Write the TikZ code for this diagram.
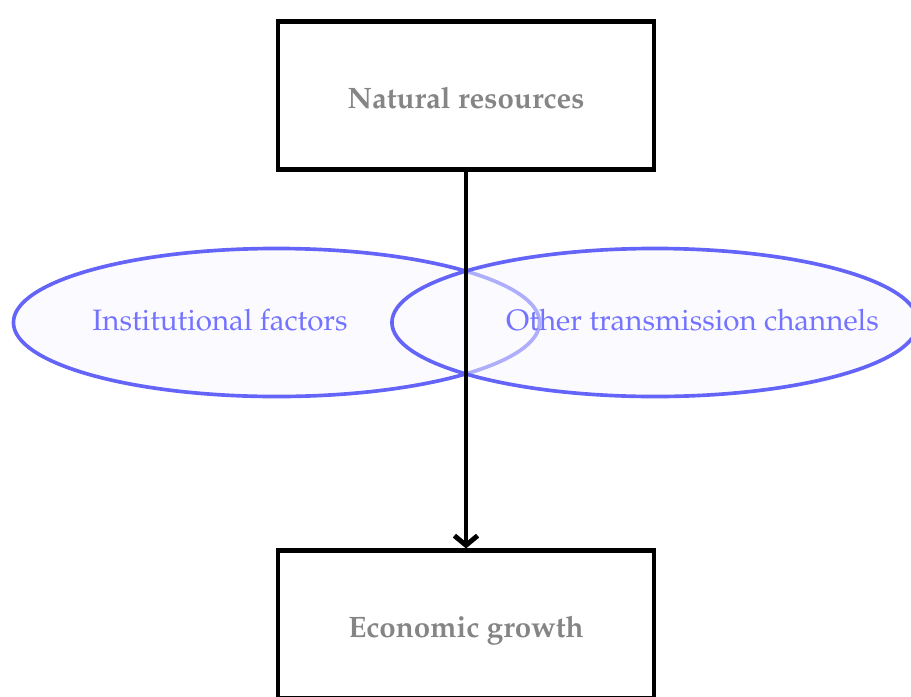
\documentclass[tikz,border=0pt]{standalone}
\usepackage[T1]{fontenc}
\usepackage{mathpazo}
\usetikzlibrary{shapes.geometric,arrows.meta}
\definecolor{chanline}{HTML}{6464F8}
\definecolor{chanfill}{HTML}{F8F8FF}
\definecolor{chantext}{HTML}{7373FF}
\definecolor{boxtext}{HTML}{858585}
\begin{document}
\begin{tikzpicture}[x=0.025cm,y=-0.025cm,
  factorbox/.style={draw=black, line width=2.9pt, minimum width=9.375cm,
    minimum height=3.7cm, inner sep=0pt, text=boxtext,
    text height=17.8pt, text depth=0pt,
    font=\fontsize{21}{25}\selectfont\bfseries},
  channel/.style={ellipse, draw=chanline, line width=2.6pt, fill=chanfill,
    fill opacity=0.5, draw opacity=1, minimum width=13.15cm,
    minimum height=3.7cm, inner sep=0pt},
  chanlabel/.style={text=chantext, font=\fontsize{21}{25}\selectfont,
    inner sep=0pt, anchor=base},
  flow/.style={draw=black, line width=3.5pt,
    -{Straight Barb[length=0.24cm,width=0.58cm]}}]
  \useasboundingbox (0,0) rectangle (911,696);
  % two overlapping channel ellipses
  \node[channel] (inst) at (276.5,322.5) {};
  \node[channel] (other) at (655,322.5) {};
  \node[chanlabel] (instlab) at (220,330) {Institutional factors};
  \node[chanlabel] (otherlab) at (692.5,330) {Other transmission channels};
  % source and outcome boxes
  \node[factorbox] (nat) at (466,95.5) {Natural resources};
  \node[factorbox] (eco) at (466,624.5) {Economic growth};
  % direct effect
  \draw[flow] (nat.south) -- (eco.north);
\end{tikzpicture}
\end{document}
